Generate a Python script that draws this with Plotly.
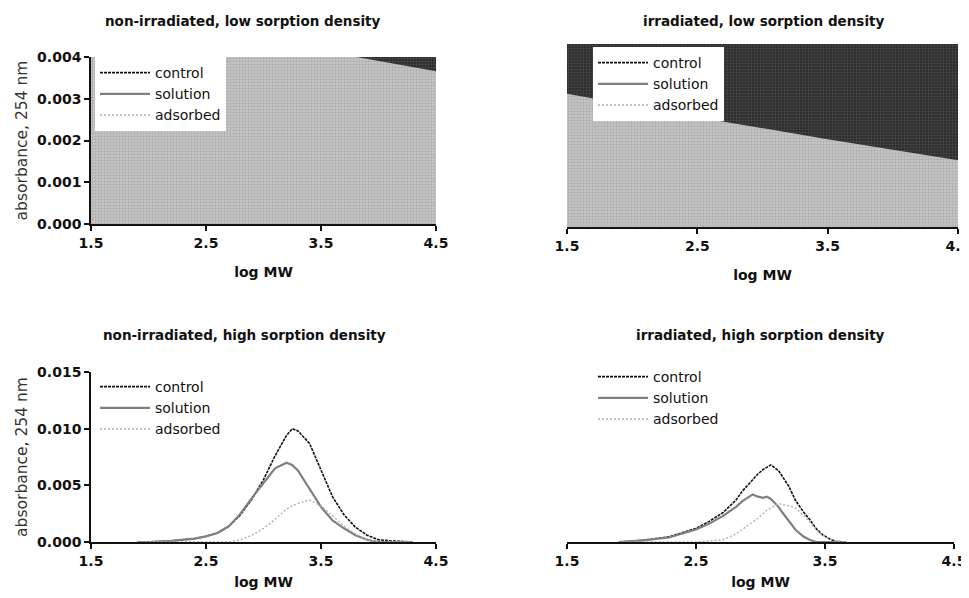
import plotly.graph_objects as go

# ---------------- data ----------------
# top-left: non-irradiated, low sorption density (values above axis top are clipped)
tl_x = [1.5, 3.81, 4.5]
tl_control = [0.0060, 0.0060, 0.0060]
tl_solution = [0.00514, 0.00400, 0.00366]

# top-right: irradiated, low sorption density
tr_x = [1.5, 2.5, 3.5, 4.5]
tr_control = [0.0060, 0.0060, 0.0060, 0.0060]
tr_solution = [0.00291, 0.00240, 0.00192, 0.00146]

# bottom-left: non-irradiated, high sorption density
bl_x = [1.9, 2.0, 2.2, 2.4, 2.5, 2.6, 2.7, 2.8, 2.9, 3.0, 3.1, 3.2, 3.25, 3.3, 3.4,
        3.5, 3.6, 3.7, 3.8, 3.9, 4.0, 4.1, 4.3]
bl_control = [0.0, 0.0, 0.0001, 0.0003, 0.0005, 0.0008, 0.0014, 0.0024, 0.0038, 0.0055,
              0.0076, 0.0094, 0.0100, 0.0098, 0.0087, 0.0064, 0.0040, 0.0024, 0.0013,
              0.0006, 0.0002, 0.0001, 0.0]
bl_solution = [0.0, 0.0, 0.0001, 0.0003, 0.0005, 0.0008, 0.0014, 0.0025, 0.0039, 0.0052,
               0.0065, 0.0070, 0.0068, 0.0063, 0.0047, 0.0031, 0.0019, 0.0012, 0.0006,
               0.0002, 0.0, 0.0, 0.0]
bl_adsorbed = [0.0, 0.0, 0.0, 0.0, 0.0, 0.0, 0.0, 0.0002, 0.0006, 0.0012, 0.0020, 0.0029,
               0.0032, 0.0034, 0.0037, 0.0032, 0.0023, 0.0014, 0.0007, 0.0002, 0.0, 0.0, 0.0]

# bottom-right: irradiated, high sorption density
br_x = [1.9, 2.09, 2.29, 2.5, 2.6, 2.71, 2.81, 2.86, 2.94, 2.98, 3.02, 3.05, 3.08, 3.14,
        3.17, 3.22, 3.27, 3.33, 3.38, 3.43, 3.48, 3.53, 3.58, 3.66]
br_control = [0.0, 0.00015, 0.00045, 0.0012, 0.0018, 0.0026, 0.0037, 0.0045, 0.0055,
              0.0060, 0.0064, 0.0066, 0.0068, 0.0063, 0.0058, 0.0049, 0.0037, 0.0027,
              0.0020, 0.0012, 0.00065, 0.0003, 0.00006, 0.0]
br_solution = [0.0, 0.00015, 0.0004, 0.0011, 0.0016, 0.0023, 0.0031, 0.0036, 0.0042,
               0.0040, 0.0039, 0.0040, 0.0038, 0.0031, 0.0026, 0.0018, 0.0011, 0.0005,
               0.0002, 0.0, 0.0, 0.0, 0.0, 0.0]
br_adsorbed = [0.0, 0.0, 0.0, 0.0, 0.0001, 0.0002, 0.0007, 0.0011, 0.0018, 0.0021,
               0.0025, 0.0028, 0.0030, 0.0034, 0.0033, 0.0032, 0.0030, 0.0024, 0.0018,
               0.0011, 0.0006, 0.0003, 0.0001, 0.0]

series_names = ["control", "solution", "adsorbed"]
titles = ["non-irradiated, low sorption density", "irradiated, low sorption density",
          "non-irradiated, high sorption density", "irradiated, high sorption density"]
x_ticks = [1.5, 2.5, 3.5, 4.5]
y_ticks_low = [0.000, 0.001, 0.002, 0.003, 0.004]
y_ticks_high = [0.000, 0.005, 0.010, 0.015]

# ---------------- styles ----------------
FONT = "DejaVu Sans"
line_styles = {
    "control": dict(color="#111111", width=1.6, dash="3px,1px"),
    "solution": dict(color="#808080", width=2.2, dash="solid"),
    "adsorbed": dict(color="#b0b0b0", width=1.4, dash="2px,2px"),
}
DARK = "#3c3c3c"
LIGHT = "#b4b4b4"

fig = go.Figure()

panels = [("x", "y", "legend"), ("x2", "y2", "legend2"),
          ("x3", "y3", "legend3"), ("x4", "y4", "legend4")]

# ---- top panels: filled areas ----
for (xa, ya, lg), xs, ctrl, sol in [(panels[0], tl_x, tl_control, tl_solution),
                                     (panels[1], tr_x, tr_control, tr_solution)]:
    fig.add_trace(go.Scatter(x=xs, y=ctrl, xaxis=xa, yaxis=ya, mode="lines",
                             fill="tozeroy", fillcolor=DARK, line=dict(color=DARK, width=0),
                             fillpattern=dict(shape="+", bgcolor="#2e2e2e", fgcolor="#6a6a6a",
                                              size=3, solidity=0.3),
                             showlegend=False, hoverinfo="skip"))
    fig.add_trace(go.Scatter(x=xs, y=sol, xaxis=xa, yaxis=ya, mode="lines",
                             fill="tozeroy", fillcolor=LIGHT, line=dict(color=LIGHT, width=0),
                             fillpattern=dict(shape="+", bgcolor="#c4c4c4", fgcolor="#8c8c8c",
                                              size=3, solidity=0.3),
                             showlegend=False, hoverinfo="skip"))
    for nm in series_names:
        fig.add_trace(go.Scatter(x=[None], y=[None], xaxis=xa, yaxis=ya, mode="lines",
                                 name=nm, line=line_styles[nm], legend=lg))

# ---- bottom panels: lines ----
for (xa, ya, lg), xs, data in [
        (panels[2], bl_x, {"control": bl_control, "solution": bl_solution, "adsorbed": bl_adsorbed}),
        (panels[3], br_x, {"control": br_control, "solution": br_solution, "adsorbed": br_adsorbed})]:
    for nm in series_names:
        fig.add_trace(go.Scatter(x=xs, y=data[nm], xaxis=xa, yaxis=ya, mode="lines",
                                 name=nm, line=line_styles[nm], legend=lg))

# page has an 8px body margin: offset all positions by it
OFF = 8
W, H = 969 - OFF, 598 - 2 * OFF
def fx(px):
    return (px - OFF) / W
def fy(py):
    return 1 - (py - OFF) / H

tickfont = dict(family=FONT, size=14, color="#111111", weight="bold")
titlefont = dict(family=FONT, size=14, color="#111111", weight="bold")
ytitlefont = dict(family=FONT, size=15.5, color="#333333")

common_x = dict(range=[1.5, 4.5], tickvals=x_ticks, ticktext=[f"{v:.1f}" for v in x_ticks],
                showgrid=False, zeroline=False, showline=True, linecolor="#111111", linewidth=1.6,
                ticks="outside", ticklen=5, tickwidth=1.6, tickcolor="#111111", automargin=False,
                ticklabeloverflow="allow",
                tickfont=tickfont, title=dict(text="log MW", font=titlefont, standoff=18))
common_y = dict(showgrid=False, zeroline=False, showline=True, linecolor="#111111",
                linewidth=1.6, ticks="outside", ticklen=5, tickwidth=1.6, tickcolor="#111111",
                tickfont=tickfont, automargin=False,
                title=dict(text="absorbance, 254 nm", font=ytitlefont, standoff=6))

fig.update_layout(
    width=W, height=H, margin=dict(l=0, r=0, t=0, b=0, pad=0, autoexpand=False),
    paper_bgcolor="white", plot_bgcolor="rgba(0,0,0,0)",
    font=dict(family=FONT, size=14, color="#111111"),
    xaxis=dict(common_x, domain=[fx(91), fx(436)], anchor="y"),
    yaxis=dict(common_y, domain=[fy(224), fy(57)], anchor="x", range=[0, 0.004],
               tickvals=y_ticks_low, ticktext=[f"{v:.3f}" for v in y_ticks_low]),
    xaxis2=dict(common_x, domain=[fx(567), fx(958)], anchor="y2"),
    yaxis2=dict(domain=[fy(227), fy(44)], anchor="x2", range=[0, 0.004], visible=False),
    xaxis3=dict(common_x, domain=[fx(91), fx(436)], anchor="y3"),
    yaxis3=dict(common_y, domain=[fy(542), fy(372)], anchor="x3", range=[0, 0.015],
                tickvals=y_ticks_high, ticktext=[f"{v:.3f}" for v in y_ticks_high]),
    xaxis4=dict(common_x, domain=[fx(567), fx(954)], anchor="y4"),
    yaxis4=dict(domain=[fy(542), fy(372)], anchor="x4", range=[0, 0.015], visible=False),
)

legend_font = dict(family=FONT, size=14, color="#111111")
def legend_cfg(px, py, bg):
    return dict(x=fx(px), y=fy(py), xanchor="left", yanchor="top", bgcolor=bg,
                font=legend_font, borderwidth=0, tracegroupgap=0, itemwidth=50,
                traceorder="normal")

fig.update_layout(
    legend=legend_cfg(95, 57, "white"),
    legend2=legend_cfg(593, 47, "white"),
    legend3=legend_cfg(95, 371, "rgba(0,0,0,0)"),
    legend4=legend_cfg(593, 361, "rgba(0,0,0,0)"),
)

title_pos = [(243, 21), (763, 21), (244, 335), (760, 335)]
for t, (px, py) in zip(titles, title_pos):
    fig.add_annotation(text=t, x=fx(px), y=fy(py), xref="paper", yref="paper",
                       showarrow=False, xanchor="center", yanchor="middle",
                       font=dict(family=FONT, size=13.5, color="#111111", weight="bold"))

fig.write_html("out.html")
